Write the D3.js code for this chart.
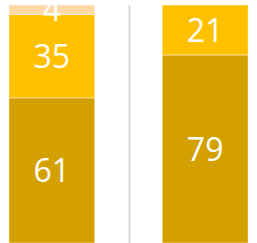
<!DOCTYPE html>
<html>
<head>
<meta charset="utf-8">
<script src="https://cdn.jsdelivr.net/npm/d3@7"></script>
<style>
  body { margin: 0; background: #fff; }
  svg { display: block; }
</style>
</head>
<body>
<div id="chart"></div>
<script>
// chart data
var groups = ["A", "B"];
var seriesKeys = ["low", "mid", "high"];
var lowValues = [61, 79];
var midValues = [35, 21];
var highValues = [4, 0];
var seriesColors = ["#d4a000", "#ffc000", "#ffd8a6"];

var width = 257, height = 243;

var rows = groups.map(function(g, i) {
  return { group: g, low: lowValues[i], mid: midValues[i], high: highValues[i] };
});

var svg = d3.select("#chart")
  .append("svg")
  .attr("width", width)
  .attr("height", height);

var x = d3.scaleBand()
  .domain(groups)
  .range([0, width])
  .paddingInner(0.44)
  .paddingOuter(0.058);

var y = d3.scaleLinear()
  .domain([0, 100])
  .range([height, 5]);

var stacked = d3.stack().keys(seriesKeys)(rows);

// divider between the two bars
svg.append("line")
  .attr("x1", 129.5)
  .attr("x2", 129.5)
  .attr("y1", 5)
  .attr("y2", height)
  .attr("stroke", "#d9d9d9")
  .attr("stroke-width", 2);

var layer = svg.selectAll("g.layer")
  .data(stacked)
  .enter().append("g")
  .attr("class", "layer")
  .attr("fill", function(d, i) { return seriesColors[i]; });

layer.selectAll("rect")
  .data(function(d) { return d.filter(function(p) { return p[1] - p[0] > 0; }); })
  .enter().append("rect")
  .attr("x", function(d) { return x(d.data.group); })
  .attr("width", x.bandwidth())
  .attr("y", function(d) { return y(d[1]); })
  .attr("height", function(d) { return y(d[0]) - y(d[1]); })
  .attr("stroke", "rgba(255,255,255,0.45)")
  .attr("stroke-width", 1);

layer.selectAll("text")
  .data(function(d) { return d.filter(function(p) { return p[1] - p[0] > 0; }); })
  .enter().append("text")
  .attr("x", function(d) { return x(d.data.group) + x.bandwidth() / 2; })
  .attr("y", function(d) { return (y(d[0]) + y(d[1])) / 2; })
  .attr("dy", "0.36em")
  .attr("text-anchor", "middle")
  .attr("font-family", "Open Sans")
  .attr("font-size", "32px")
  .attr("fill", "#fff")
  .text(function(d) { return d[1] - d[0]; });
</script>
</body>
</html>
